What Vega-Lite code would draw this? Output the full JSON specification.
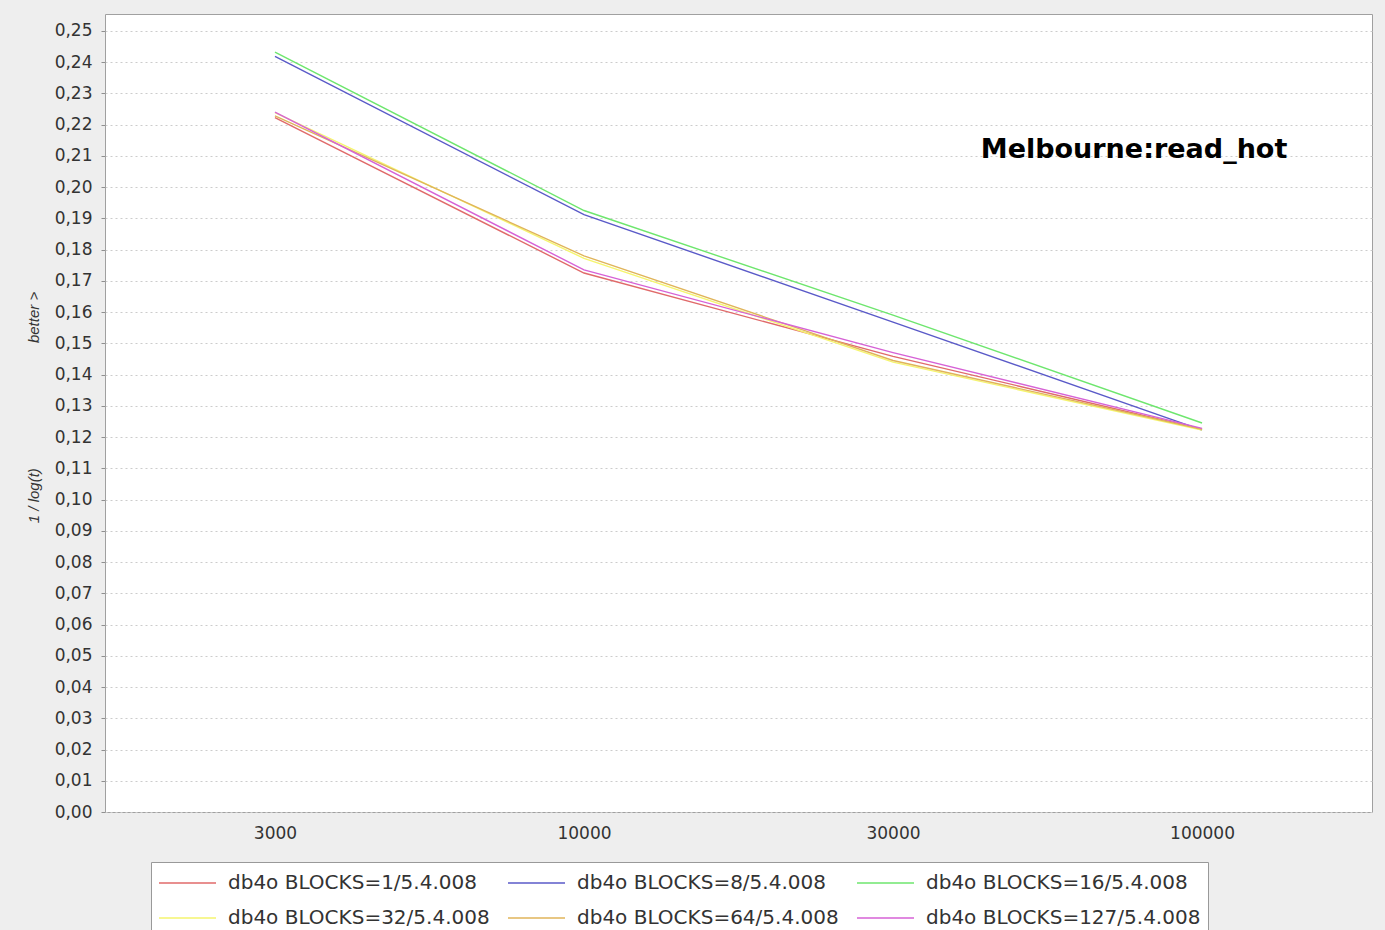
{
  "$schema": "https://vega.github.io/schema/vega-lite/v6.json",
  "autosize": {"type": "none"},
  "width": 1267,
  "height": 798,
  "padding": {"left": 105, "top": 14, "right": 13, "bottom": 118},
  "background": "#eeeeee",
  "config": {
    "view": {"stroke": "#a0a0a0", "strokeWidth": 1, "fill": "#ffffff"},
    "font": "DejaVu Sans"
  },
  "layer": [
    {
      "data": {
        "values": [
          {"size": "3000", "series": "db4o BLOCKS=1/5.4.008", "v": 0.2222},
          {"size": "10000", "series": "db4o BLOCKS=1/5.4.008", "v": 0.1725},
          {"size": "30000", "series": "db4o BLOCKS=1/5.4.008", "v": 0.1458},
          {"size": "100000", "series": "db4o BLOCKS=1/5.4.008", "v": 0.1225},
          {"size": "3000", "series": "db4o BLOCKS=8/5.4.008", "v": 0.2418},
          {"size": "10000", "series": "db4o BLOCKS=8/5.4.008", "v": 0.1912},
          {"size": "30000", "series": "db4o BLOCKS=8/5.4.008", "v": 0.1568},
          {"size": "100000", "series": "db4o BLOCKS=8/5.4.008", "v": 0.1222},
          {"size": "3000", "series": "db4o BLOCKS=16/5.4.008", "v": 0.2432},
          {"size": "10000", "series": "db4o BLOCKS=16/5.4.008", "v": 0.1925},
          {"size": "30000", "series": "db4o BLOCKS=16/5.4.008", "v": 0.1590},
          {"size": "100000", "series": "db4o BLOCKS=16/5.4.008", "v": 0.1245},
          {"size": "3000", "series": "db4o BLOCKS=32/5.4.008", "v": 0.2238},
          {"size": "10000", "series": "db4o BLOCKS=32/5.4.008", "v": 0.1772},
          {"size": "30000", "series": "db4o BLOCKS=32/5.4.008", "v": 0.1440},
          {"size": "100000", "series": "db4o BLOCKS=32/5.4.008", "v": 0.1222},
          {"size": "3000", "series": "db4o BLOCKS=64/5.4.008", "v": 0.2228},
          {"size": "10000", "series": "db4o BLOCKS=64/5.4.008", "v": 0.1780},
          {"size": "30000", "series": "db4o BLOCKS=64/5.4.008", "v": 0.1445},
          {"size": "100000", "series": "db4o BLOCKS=64/5.4.008", "v": 0.1225},
          {"size": "3000", "series": "db4o BLOCKS=127/5.4.008", "v": 0.2240},
          {"size": "10000", "series": "db4o BLOCKS=127/5.4.008", "v": 0.1735},
          {"size": "30000", "series": "db4o BLOCKS=127/5.4.008", "v": 0.1470},
          {"size": "100000", "series": "db4o BLOCKS=127/5.4.008", "v": 0.1228}
        ]
      },
      "mark": {"type": "line", "strokeWidth": 1.4},
      "encoding": {
        "x": {
          "field": "size", "type": "ordinal",
          "sort": ["3000", "10000", "30000", "100000"],
          "scale": {"type": "point", "padding": 0.55},
          "axis": {
            "title": null, "ticks": false, "domain": false, "grid": false,
            "labelAngle": 0, "labelFont": "DejaVu Sans", "labelFontSize": 17,
            "labelColor": "#333333", "labelPadding": 13
          }
        },
        "y": {
          "field": "v", "type": "quantitative",
          "scale": {"domain": [0, 0.2554], "nice": false, "zero": true},
          "axis": {
            "values": [0, 0.01, 0.02, 0.03, 0.04, 0.05, 0.06, 0.07, 0.08, 0.09, 0.1, 0.11, 0.12, 0.13, 0.14, 0.15, 0.16, 0.17, 0.18, 0.19, 0.2, 0.21, 0.22, 0.23, 0.24, 0.25],
            "tickCount": 40,
            "labelOverlap": false,
            "labelExpr": "replace(format(datum.value, '.2f'), '.', ',')",
            "labelFont": "DejaVu Sans", "labelFontSize": 17, "labelColor": "#333333",
            "labelPadding": 9,
            "tickSize": 4, "tickColor": "#909090",
            "domain": false,
            "grid": true, "gridColor": "#cccccc", "gridDash": [2, 3], "gridWidth": 1,
            "title": "1 / log(t)\u00a0\u00a0\u00a0\u00a0\u00a0\u00a0\u00a0\u00a0\u00a0\u00a0\u00a0\u00a0\u00a0\u00a0\u00a0\u00a0\u00a0\u00a0\u00a0\u00a0\u00a0\u00a0\u00a0\u00a0\u00a0\u00a0\u00a0\u00a0\u00a0\u00a0better >",
            "titleFont": "Liberation Sans", "titleFontSize": 15, "titleFontStyle": "italic",
            "titleFontWeight": "normal", "titleColor": "#333333",
            "titleAngle": -90, "titleX": -72, "titleY": 393,
            "titleAlign": "center", "titleBaseline": "middle"
          }
        },
        "color": {
          "field": "series", "type": "nominal",
          "sort": ["db4o BLOCKS=1/5.4.008", "db4o BLOCKS=8/5.4.008", "db4o BLOCKS=16/5.4.008", "db4o BLOCKS=32/5.4.008", "db4o BLOCKS=64/5.4.008", "db4o BLOCKS=127/5.4.008"],
          "scale": {
            "domain": ["db4o BLOCKS=1/5.4.008", "db4o BLOCKS=8/5.4.008", "db4o BLOCKS=16/5.4.008", "db4o BLOCKS=32/5.4.008", "db4o BLOCKS=64/5.4.008", "db4o BLOCKS=127/5.4.008"],
            "range": ["#e06a6a", "#5a5ac8", "#6ee66e", "#f5f56e", "#e0b45a", "#d662d6"]
          },
          "legend": {
            "title": null,
            "orient": "none", "legendX": 46, "legendY": 848,
            "direction": "horizontal", "columns": 3, "gridAlign": "none",
            "symbolType": "stroke", "symbolSize": 3249, "symbolStrokeWidth": 1.4,
            "clipHeight": 28, "rowPadding": 7, "columnPadding": 17,
            "labelFont": "DejaVu Sans", "labelFontSize": 20, "labelColor": "#333333",
            "labelOffset": 11, "labelLimit": 400,
            "padding": 7, "strokeColor": "#999999", "fillColor": "#ffffff"
          }
        }
      }
    },
    {
      "data": {"values": [{"label": "Melbourne:read_hot", "size": "100000", "v": 0.2119}]},
      "mark": {"type": "text", "font": "DejaVu Sans", "fontWeight": "bold", "fontSize": 27, "color": "#000000", "align": "center", "baseline": "middle", "dx": -68},
      "encoding": {
        "x": {"field": "size", "type": "ordinal", "sort": ["3000", "10000", "30000", "100000"]},
        "y": {"field": "v", "type": "quantitative"},
        "text": {"field": "label"}
      }
    }
  ]
}
